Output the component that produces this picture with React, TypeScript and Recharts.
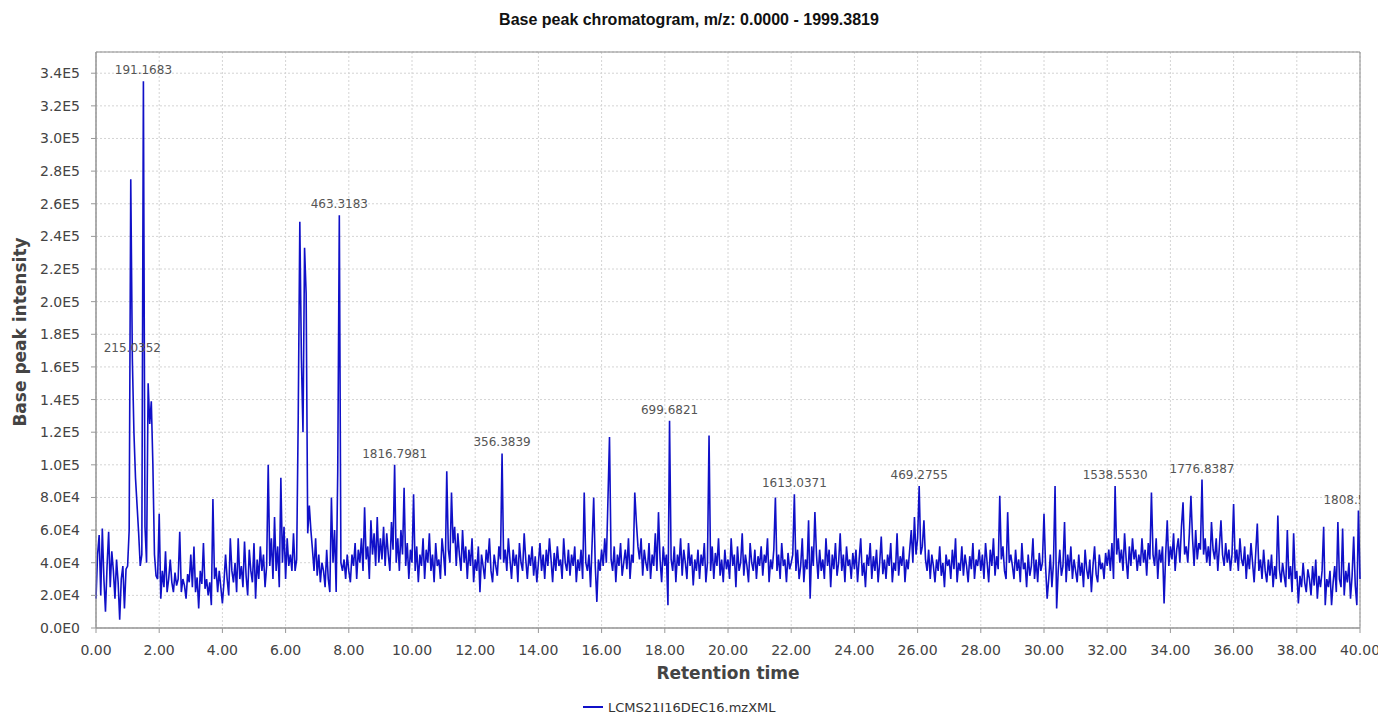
import React from 'react';
import { LineChart, Line, XAxis, YAxis, CartesianGrid, ReferenceArea, Label, LabelList } from 'recharts';

const TITLE = 'Base peak chromatogram, m/z: 0.0000 - 1999.3819';
const SERIES_NAME = 'LCMS21I16DEC16.mzXML';
const X_TITLE = 'Retention time';
const Y_TITLE = 'Base peak intensity';

const SCAN_STEP = 0.05; // minutes between scans
// base peak intensity in thousands, one row per minute (20 scans per row)
const INTENSITY_K: number[][] = [
  [18, 45, 57, 20, 61, 30, 10, 38, 59, 25, 47, 35, 18, 42, 28, 5, 30, 38, 12, 36],
  [38, 60, 275, 165, 120, 92, 75, 58, 38, 45, 335, 62, 40, 150, 125, 139, 100, 45, 32, 30],
  [70, 18, 35, 25, 47, 22, 30, 42, 28, 22, 34, 26, 30, 59, 22, 30, 26, 18, 33, 28],
  [45, 25, 50, 22, 31, 12, 35, 27, 52, 24, 30, 20, 28, 14, 79, 30, 37, 22, 35, 25],
  [15, 28, 45, 30, 20, 55, 35, 28, 40, 22, 55, 30, 38, 25, 53, 32, 20, 48, 35, 28],
  [52, 18, 42, 30, 50, 35, 45, 25, 38, 100, 38, 55, 30, 68, 35, 50, 25, 92, 40, 62],
  [30, 55, 38, 45, 35, 58, 35, 42, 130, 249, 165, 120, 233, 205, 58, 75, 60, 48, 35, 55],
  [32, 45, 28, 40, 35, 25, 48, 30, 22, 80, 40, 60, 22, 96, 253, 40, 35, 42, 30, 45],
  [35, 28, 45, 38, 52, 30, 48, 40, 55, 35, 74, 42, 50, 30, 66, 45, 58, 38, 68, 40],
  [55, 42, 62, 38, 58, 45, 35, 65, 48, 100, 40, 55, 35, 60, 45, 86, 38, 52, 30, 48],
  [40, 82, 35, 50, 28, 45, 38, 55, 30, 48, 40, 58, 35, 45, 28, 52, 38, 42, 30, 55],
  [45, 32, 96, 48, 40, 83, 52, 62, 38, 58, 45, 35, 60, 40, 50, 30, 48, 38, 55, 28],
  [42, 35, 50, 22, 45, 38, 30, 48, 40, 55, 35, 28, 45, 38, 32, 50, 42, 107, 40, 48],
  [35, 55, 42, 30, 48, 38, 45, 28, 52, 40, 35, 58, 42, 30, 45, 38, 50, 32, 44, 28],
  [40, 52, 35, 45, 30, 48, 38, 55, 42, 28, 46, 35, 50, 38, 42, 30, 55, 40, 35, 48],
  [32, 45, 38, 50, 28, 42, 35, 48, 30, 83, 40, 35, 45, 25, 52, 80, 38, 16, 42, 35],
  [48, 38, 55, 40, 78, 117, 42, 35, 50, 28, 45, 38, 52, 32, 40, 48, 36, 55, 30, 45],
  [40, 83, 65, 50, 42, 55, 32, 48, 40, 35, 52, 30, 45, 38, 58, 35, 71, 42, 28, 50],
  [38, 45, 14, 127, 42, 35, 50, 28, 45, 38, 55, 32, 48, 40, 30, 52, 38, 45, 26, 42],
  [35, 48, 30, 45, 38, 52, 28, 40, 118, 35, 50, 30, 46, 38, 55, 32, 42, 28, 48, 36],
  [42, 30, 55, 38, 45, 25, 50, 35, 40, 58, 32, 45, 38, 28, 52, 40, 35, 48, 30, 44],
  [38, 50, 32, 45, 40, 55, 28, 42, 36, 48, 80, 35, 45, 30, 52, 38, 42, 28, 46, 36],
  [40, 45, 82, 35, 48, 30, 38, 55, 28, 42, 36, 66, 18, 50, 38, 71, 45, 30, 48, 35],
  [42, 30, 55, 38, 48, 25, 45, 36, 52, 32, 40, 58, 35, 45, 28, 50, 38, 42, 30, 46],
  [36, 48, 28, 42, 55, 32, 40, 25, 45, 38, 52, 30, 44, 35, 48, 28, 40, 56, 33, 42],
  [30, 45, 38, 52, 28, 40, 35, 58, 32, 44, 38, 50, 28, 42, 36, 48, 60, 40, 68, 45],
  [55, 87, 45, 50, 66, 42, 35, 48, 30, 45, 38, 28, 42, 35, 50, 32, 40, 25, 45, 38],
  [42, 30, 48, 36, 55, 28, 40, 35, 50, 32, 45, 38, 28, 44, 36, 52, 30, 42, 38, 48],
  [35, 45, 30, 52, 40, 28, 48, 38, 55, 32, 44, 36, 81, 42, 50, 35, 30, 71, 40, 45],
  [38, 30, 48, 35, 42, 28, 52, 36, 40, 25, 45, 32, 38, 55, 30, 42, 28, 46, 35, 40],
  [70, 38, 18, 30, 45, 25, 40, 87, 12, 35, 48, 32, 38, 65, 28, 45, 35, 50, 30, 42],
  [35, 28, 45, 32, 40, 25, 48, 36, 30, 42, 22, 38, 50, 33, 28, 45, 36, 40, 30, 46],
  [38, 48, 35, 52, 30, 87, 45, 55, 40, 48, 35, 58, 42, 30, 50, 38, 55, 42, 48, 35],
  [45, 38, 55, 40, 48, 32, 52, 42, 83, 45, 38, 55, 30, 48, 40, 50, 15, 45, 66, 38],
  [50, 42, 58, 35, 48, 55, 40, 62, 77, 45, 50, 40, 58, 81, 55, 38, 60, 42, 52, 48],
  [91, 45, 55, 40, 50, 38, 65, 48, 42, 55, 35, 50, 66, 45, 38, 52, 40, 48, 35, 45],
  [76, 40, 48, 35, 55, 42, 38, 50, 30, 45, 36, 52, 40, 28, 46, 64, 35, 42, 30, 48],
  [35, 28, 42, 32, 45, 25, 38, 30, 69, 36, 28, 40, 32, 25, 60, 30, 38, 22, 58, 30],
  [35, 15, 32, 25, 40, 28, 22, 36, 30, 20, 38, 26, 42, 18, 32, 25, 35, 62, 14, 30],
  [25, 35, 14, 28, 38, 22, 65, 30, 25, 61, 20, 35, 28, 40, 18, 32, 56, 26, 14, 72],
];
const LAST_SCAN_K = 30; // scan at 40.00 min

// m/z of the base peak shown above selected scans
const PEAK_LABELS = [
  { t: 1.15, text: '215.0352' },
  { t: 1.5, text: '191.1683' },
  { t: 7.7, text: '463.3183' },
  { t: 9.45, text: '1816.7981' },
  { t: 12.85, text: '356.3839' },
  { t: 18.15, text: '699.6821' },
  { t: 22.1, text: '1613.0371' },
  { t: 26.05, text: '469.2755' },
  { t: 32.25, text: '1538.5530' },
  { t: 35, text: '1776.8387' },
  { t: 39.95, text: '1808.5' },
];

const X_TICKS = [0, 2, 4, 6, 8, 10, 12, 14, 16, 18, 20, 22, 24, 26, 28, 30, 32, 34, 36, 38, 40];
const Y_TICKS = [0, 20000, 40000, 60000, 80000, 100000, 120000, 140000, 160000, 180000, 200000,
  220000, 240000, 260000, 280000, 300000, 320000, 340000];
const Y_MAX = 353000;

const W = 1378;
const H = 714;
const MARGIN = { top: 52, right: 18, bottom: 0, left: 0 };
const Y_AXIS_W = 96;
const X_AXIS_H = 86;
const PLOT = { x: Y_AXIS_W, y: MARGIN.top, w: W - Y_AXIS_W - MARGIN.right, h: H - MARGIN.top - X_AXIS_H };

const LINE_COLOR = '#1010c8';
const TICK_FONT = { fontFamily: 'DejaVu Sans', fontSize: 14, fill: '#444' };

const data: { t: number; v: number; ann?: string }[] = [];
INTENSITY_K.forEach((row, m) => {
  row.forEach((k, j) => {
    const t = Math.round((m + j * SCAN_STEP) * 100) / 100;
    const hit = PEAK_LABELS.find(p => Math.abs(p.t - t) < 1e-6);
    data.push({ t, v: k * 1000, ann: hit ? hit.text : undefined });
  });
});
data.push({ t: 40, v: LAST_SCAN_K * 1000 });

const formatSci = (v: number) => {
  if (v === 0) return '0.0E0';
  const e = Math.floor(Math.log10(v));
  return `${(v / Math.pow(10, e)).toFixed(1)}E${e}`;
};

// the last label runs off the plot and gets cut at the border
const LABEL_DX: Record<string, number> = { '1808.5': -14 };

const PeakLabel = (props: any) => {
  const { x, y, value, index } = props;
  if (!value) return null;
  const id = `peak-clip-${index}`;
  return (
    <g>
      <defs>
        <clipPath id={id}>
          <rect x={PLOT.x} y={PLOT.y} width={PLOT.w} height={PLOT.h} />
        </clipPath>
      </defs>
      <text
        x={x + (LABEL_DX[value] || 0)}
        y={y - 7}
        textAnchor="middle"
        clipPath={`url(#${id})`}
        style={{ fontFamily: 'DejaVu Sans', fontSize: 12, fill: '#555' }}
      >
        {value}
      </text>
    </g>
  );
};

const YTitle = (props: any) => {
  const { viewBox } = props;
  const cx = viewBox.x + 20;
  const cy = viewBox.y + viewBox.height / 2 - 8;
  return (
    <text
      x={cx}
      y={cy}
      transform={`rotate(-90, ${cx}, ${cy})`}
      textAnchor="middle"
      dominantBaseline="central"
      style={{ fontFamily: 'DejaVu Sans', fontWeight: 'bold', fontSize: 17, fill: '#444' }}
    >
      {Y_TITLE}
    </text>
  );
};

const XTitle = (props: any) => {
  const { viewBox } = props;
  return (
    <text
      x={viewBox.x + viewBox.width / 2}
      y={viewBox.y + 45}
      textAnchor="middle"
      dominantBaseline="central"
      style={{ fontFamily: 'DejaVu Sans', fontWeight: 'bold', fontSize: 17, fill: '#444' }}
    >
      {X_TITLE}
    </text>
  );
};

export default function App() {
  return (
    <div style={{ position: 'absolute', left: 0, top: 0, width: W, height: H, background: '#fff' }}>
      <div
        style={{
          position: 'absolute',
          top: 11,
          left: 0,
          width: W,
          textAlign: 'center',
          fontFamily: 'Liberation Sans',
          fontWeight: 'bold',
          fontSize: 16,
          color: '#111',
        }}
      >
        {TITLE}
      </div>
      <LineChart width={W} height={H} data={data} margin={MARGIN}>
        <CartesianGrid stroke="#d4d4d4" strokeDasharray="2 2" />
        <ReferenceArea x1={0} x2={40} y1={0} y2={Y_MAX} fill="none" stroke="#8a8a8a" strokeOpacity={1} ifOverflow="visible" />
        <XAxis
          type="number"
          dataKey="t"
          domain={[0, 40]}
          ticks={X_TICKS}
          tickFormatter={(v: number) => v.toFixed(2)}
          height={X_AXIS_H}
          tick={TICK_FONT}
          tickSize={5}
          tickMargin={12}
          stroke="#999"
          interval={0}
        >
          <Label content={XTitle} />
        </XAxis>
        <YAxis
          type="number"
          domain={[0, Y_MAX]}
          ticks={Y_TICKS}
          tickFormatter={formatSci}
          width={Y_AXIS_W}
          tick={TICK_FONT}
          tickSize={5}
          tickMargin={11}
          stroke="#999"
          interval={0}
          allowDataOverflow
        >
          <Label content={YTitle} />
        </YAxis>
        <Line
          type="linear"
          dataKey="v"
          stroke={LINE_COLOR}
          strokeWidth={1.6}
          dot={false}
          isAnimationActive={false}
        >
          <LabelList dataKey="ann" content={PeakLabel} />
        </Line>
      </LineChart>
      <div
        style={{
          position: 'absolute',
          top: 698,
          left: 583,
          height: 18,
          display: 'flex',
          alignItems: 'center',
          fontFamily: 'DejaVu Sans',
          fontSize: 13,
          color: '#333',
        }}
      >
        <span style={{ display: 'inline-block', width: 20, height: 2, background: LINE_COLOR, marginRight: 5 }} />
        {SERIES_NAME}
      </div>
    </div>
  );
}
